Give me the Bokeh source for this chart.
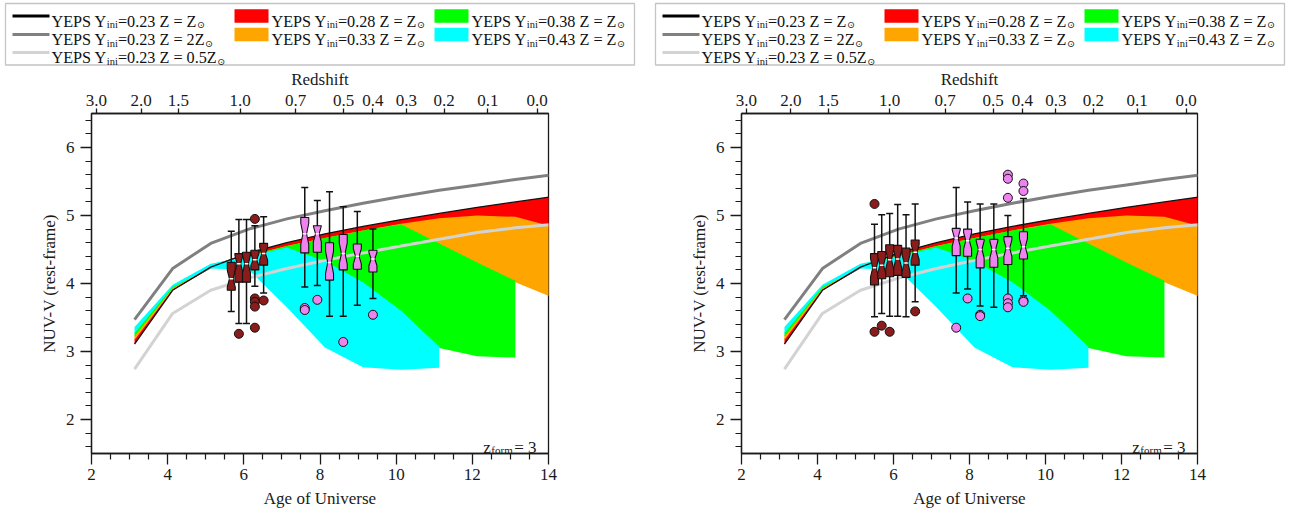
from bokeh.plotting import figure
from bokeh.models import Range1d, LinearAxis, FixedTicker, CustomJSTickFormatter
from bokeh.layouts import row, column
from bokeh.embed import file_html
from bokeh.resources import INLINE
from bokeh.core.properties import value

FONT = "Liberation Serif"

# ---------------- axes / ticks ----------------
age_ticks = [2, 4, 6, 8, 10, 12, 14]
age_minor = [2.5, 3, 3.5, 4.5, 5, 5.5, 6.5, 7, 7.5, 8.5, 9, 9.5, 10.5, 11, 11.5, 12.5, 13, 13.5]
color_ticks = [2, 3, 4, 5, 6]
color_minor = [1.6, 1.8, 2.2, 2.4, 2.6, 2.8, 3.2, 3.4, 3.6, 3.8, 4.2, 4.4, 4.6, 4.8,
               5.2, 5.4, 5.6, 5.8, 6.2, 6.4]
redshift_labels = ["3.0", "2.0", "1.5", "1.0", "0.7", "0.5", "0.4", "0.3", "0.2", "0.1", "0.0"]
redshift_ages = [2.13, 3.30, 4.28, 5.90, 7.36, 8.62, 9.39, 10.27, 11.26, 12.41, 13.70]

# ---------------- YEPS model tracks (age of universe, NUV-V) ----------------
model_age = [3.13, 4.13, 5.13, 6.13, 7.13, 8.13, 9.13, 10.13, 11.13, 12.13, 13.13, 14.13]
yeps_023_z1 = [3.11, 3.90, 4.24, 4.45, 4.60, 4.73, 4.84, 4.94, 5.03, 5.12, 5.20, 5.28]
yeps_023_z2 = [3.47, 4.22, 4.59, 4.80, 4.95, 5.07, 5.18, 5.28, 5.37, 5.45, 5.53, 5.60]
yeps_023_z05 = [2.74, 3.56, 3.90, 4.08, 4.22, 4.34, 4.45, 4.55, 4.65, 4.75, 4.82, 4.87]

band_028_age = [3.13, 4.13, 5.13, 6.13, 7.13, 8.13, 9.13, 10.13, 11.13, 12.13, 13.13, 14.13]
band_028_hi = [3.19, 3.92, 4.26, 4.45, 4.60, 4.73, 4.84, 4.94, 5.03, 5.12, 5.20, 5.28]
band_028_lo = [3.11, 3.90, 4.22, 4.38, 4.50, 4.60, 4.70, 4.80, 4.88, 4.92, 4.90, 4.78]

band_033_age = [3.13, 4.13, 5.13, 6.13, 7.13, 8.13, 9.13, 10.13, 11.13, 12.13, 13.13, 14.13]
band_033_hi = [3.235, 3.94, 4.27, 4.41, 4.55, 4.67, 4.78, 4.88, 4.96, 5.00, 4.98, 4.83]
band_033_lo = [3.17, 3.91, 4.24, 4.35, 4.45, 4.50, 4.50, 4.50, 4.35, 4.15, 4.02, 3.79]

band_038_age = [3.13, 4.13, 5.13, 6.13, 7.13, 8.13, 9.13, 10.13, 11.13, 12.13, 13.13]
band_038_hi = [3.28, 3.96, 4.28, 4.41, 4.55, 4.67, 4.78, 4.87, 4.59, 4.31, 4.04]
band_038_lo = [3.22, 3.93, 4.25, 4.30, 4.00, 3.70, 3.40, 3.15, 3.05, 2.93, 2.91]

band_043_age = [3.13, 4.13, 5.13, 6.13, 7.13, 8.13, 9.13, 10.13, 11.13]
band_043_hi = [3.36, 3.98, 4.29, 4.40, 4.53, 4.33, 4.02, 3.60, 3.07]
band_043_lo = [3.27, 3.95, 4.22, 4.20, 3.65, 3.06, 2.77, 2.73, 2.76]

# ---------------- observed box plots ----------------
# left panel, dark red group
L1_age = [5.67, 5.87, 6.07, 6.29, 6.52]
L1_wlo = [3.59, 3.41, 3.41, 3.96, 3.86]
L1_q1 = [3.90, 4.02, 4.02, 4.20, 4.27]
L1_med = [4.07, 4.29, 4.29, 4.35, 4.44]
L1_q3 = [4.31, 4.44, 4.46, 4.49, 4.59]
L1_whi = [4.77, 4.94, 4.94, 4.85, 4.98]
L1_out_age = [5.87, 6.29, 6.29, 6.29, 6.29, 6.29, 6.52]
L1_out_val = [3.26, 4.95, 3.78, 3.73, 3.66, 3.35, 3.75]
# left panel, violet group
L2_age = [7.60, 7.93, 8.25, 8.61, 8.98, 9.39]
L2_wlo = [3.95, 3.97, 3.52, 3.52, 3.68, 3.78]
L2_q1 = [4.45, 4.46, 4.05, 4.20, 4.21, 4.17]
L2_med = [4.73, 4.73, 4.31, 4.44, 4.40, 4.36]
L2_q3 = [4.97, 4.85, 4.60, 4.72, 4.58, 4.49]
L2_whi = [5.41, 5.22, 5.35, 5.13, 5.06, 4.80]
L2_out_age = [7.60, 7.60, 7.93, 8.61, 9.39]
L2_out_val = [3.64, 3.61, 3.76, 3.14, 3.54]
# right panel, dark red group
R1_age = [5.50, 5.69, 5.90, 6.11, 6.33, 6.57]
R1_wlo = [3.51, 3.56, 3.52, 3.52, 3.51, 3.73]
R1_q1 = [3.98, 4.07, 4.10, 4.12, 4.09, 4.27]
R1_med = [4.23, 4.27, 4.35, 4.36, 4.30, 4.46]
R1_q3 = [4.44, 4.47, 4.57, 4.56, 4.52, 4.64]
R1_whi = [4.87, 5.01, 5.03, 5.16, 5.01, 5.17]
R1_out_age = [5.50, 5.50, 5.69, 5.90, 6.57]
R1_out_val = [5.17, 3.29, 3.38, 3.29, 3.59]
# right panel, violet group
R2_age = [7.65, 7.95, 8.28, 8.64, 9.01, 9.42]
R2_wlo = [3.86, 3.92, 3.67, 3.65, 3.81, 3.82]
R2_q1 = [4.41, 4.40, 4.23, 4.24, 4.28, 4.36]
R2_med = [4.67, 4.63, 4.50, 4.50, 4.52, 4.54]
R2_q3 = [4.81, 4.80, 4.65, 4.65, 4.69, 4.76]
R2_whi = [5.41, 5.20, 5.17, 5.17, 5.00, 5.25]
R2_out_age = [7.65, 7.95, 8.28, 8.28, 9.01, 9.01, 9.01, 9.01, 9.01, 9.01, 9.42, 9.42, 9.42, 9.42]
R2_out_val = [3.35, 3.78, 3.54, 3.52, 5.60, 5.54, 5.26, 3.78, 3.71, 3.65, 5.47, 5.36, 3.75, 3.73]

# ---------------- legend texts ----------------
legend_yini = ["0.23", "0.23", "0.23", "0.28", "0.33", "0.38", "0.43"]
legend_z = ["Z", "2Z", "0.5Z", "Z", "Z", "Z", "Z"]
legend_color = ["black", "#808080", "#D3D3D3", "#FF0000", "#FFA500", "#00FF00", "#00FFFF"]
legend_kind = ["line", "line", "line", "patch", "patch", "patch", "patch"]
legend_col = [0, 0, 0, 1, 1, 2, 2]
legend_row = [0, 1, 2, 0, 1, 0, 1]

DARKRED = "#8B1C1C"
VIOLET = "#EE82EE"

# Times / Liberation Serif advance widths (per 1000 em)
TNR = {'Y': 722, 'E': 611, 'P': 556, 'S': 556, ' ': 250, 'i': 278, 'n': 500, '=': 564,
       '0': 500, '.': 250, '2': 500, '3': 500, '4': 500, '5': 500, '8': 500, 'Z': 611,
       'f': 333, 'o': 500, 'r': 333, 'm': 778, 'z': 444}


def tw(s, size):
    return sum(TNR.get(ch, 500) for ch in s) / 1000.0 * size


X0, X1, Y0, Y1 = 2, 14, 1.5, 6.5
LEG_H = 66


def make_legend(width):
    lg = figure(width=width, height=LEG_H, x_range=Range1d(0, width), y_range=Range1d(LEG_H, 0),
                output_backend="svg", toolbar_location=None, min_border=0,
                x_axis_location=None, y_axis_location=None)
    lg.grid.visible = False
    lg.outline_line_color = None
    lg.quad(left=[5], right=[634], top=[3], bottom=[64.5], fill_color="white",
            line_color="#c4c4c4", line_width=1.3)
    F, FS = 16.2, 10.5
    sym_x = [12, 234, 434]
    sym_w = [37, 34, 34]
    txt_x = [51, 271, 471]
    base = [21.0, 39.5, 57.5]
    for k in range(len(legend_yini)):
        c, r = legend_col[k], legend_row[k]
        b = base[r]
        if legend_kind[k] == "line":
            lg.line([sym_x[c], sym_x[c] + sym_w[c]], [b - 5.5, b - 5.5], line_color=legend_color[k],
                    line_width=3)
        else:
            lg.quad(left=[sym_x[c]], right=[sym_x[c] + sym_w[c]], top=[b - 12.3], bottom=[b + 1.3],
                    fill_color=legend_color[k], line_color=None)
        x = txt_x[c]
        s1 = "YEPS Y"
        s2 = "ini"
        s3 = "=" + legend_yini[k] + " Z = " + legend_z[k]
        xs = [x, x + tw(s1, F), x + tw(s1, F) + tw(s2, FS)]
        xs.append(xs[2] + tw(s3, F) + 0.5)
        lg.text(x=[xs[0]], y=[b], text=[s1], text_font=value(FONT), text_font_size=f"{F}px",
                text_baseline="alphabetic", text_color="#111111")
        lg.text(x=[xs[1]], y=[b + 3.3], text=[s2], text_font=value(FONT), text_font_size=f"{FS}px",
                text_baseline="alphabetic", text_color="#111111")
        lg.text(x=[xs[2]], y=[b], text=[s3], text_font=value(FONT), text_font_size=f"{F}px",
                text_baseline="alphabetic", text_color="#111111")
        lg.text(x=[xs[3]], y=[b + 3.3], text=["\u2299"], text_font=value("DejaVu Sans"),
                text_font_size="9.5px", text_baseline="alphabetic", text_color="#111111")
    return lg


def style_axis(ax, tick_out, minor_out, label_standoff, axis_standoff):
    ax.axis_line_color = "#1a1a1a"
    ax.axis_line_width = 1.3
    ax.major_tick_line_color = "#1a1a1a"
    ax.major_tick_line_width = 1.3
    ax.minor_tick_line_color = "#1a1a1a"
    ax.minor_tick_line_width = 1.2
    ax.major_tick_in = 0
    ax.major_tick_out = tick_out
    ax.minor_tick_in = 0
    ax.minor_tick_out = minor_out
    ax.major_label_text_font = FONT
    ax.major_label_text_font_size = "17px"
    ax.major_label_text_color = "#1a1a1a"
    ax.major_label_standoff = label_standoff
    ax.axis_label_text_font = FONT
    ax.axis_label_text_font_size = "17px"
    ax.axis_label_text_font_style = "normal"
    ax.axis_label_text_color = "#1a1a1a"
    ax.axis_label_standoff = axis_standoff


def draw_boxes(p, frame_w, ages, wlo, q1, med, q3, whi, out_age, out_val, fill):
    pxx = frame_w / (X1 - X0)
    hw = 4.0 / pxx
    cap = 3.5 / pxx
    xs, ys = [], []
    for c, a, m, b in zip(ages, q1, med, q3):
        n = 0.3 * (b - a)
        xs.append([c - hw, c + hw, c + hw, c + hw * 0.45, c + hw, c + hw, c - hw, c - hw, c - hw * 0.45, c - hw])
        ys.append([a, a, m - n, m, m + n, b, b, m + n, m, m - n])
    p.segment(x0=ages, y0=wlo, x1=ages, y1=whi, line_color="#111111", line_width=1.5)
    p.segment(x0=[c - cap for c in ages], y0=wlo, x1=[c + cap for c in ages], y1=wlo,
              line_color="#111111", line_width=1.5)
    p.segment(x0=[c - cap for c in ages], y0=whi, x1=[c + cap for c in ages], y1=whi,
              line_color="#111111", line_width=1.5)
    p.patches(xs, ys, fill_color=fill, line_color="#111111", line_width=1.1)
    p.segment(x0=[c - hw * 0.45 for c in ages], y0=med, x1=[c + hw * 0.45 for c in ages], y1=med,
              line_color="white", line_width=1.5)
    p.scatter(out_age, out_val, marker="circle", size=9, fill_color=fill, line_color="#111111",
              line_width=1)


def make_panel(width, right_border, boxes):
    frame_w = width - 91 - right_border
    p = figure(width=width, height=517 - LEG_H, x_range=Range1d(X0, X1), y_range=Range1d(Y0, Y1),
               output_backend="svg", toolbar_location=None,
               min_border_left=91, min_border_right=right_border, min_border_top=47, min_border_bottom=64,
               x_axis_label="Age of Universe", y_axis_label="NUV-V (rest-frame)")
    p.grid.visible = False
    p.outline_line_color = "#1a1a1a"
    p.outline_line_width = 1.3
    p.xaxis.ticker = FixedTicker(ticks=age_ticks, minor_ticks=age_minor)
    p.yaxis.ticker = FixedTicker(ticks=color_ticks, minor_ticks=color_minor)
    style_axis(p.xaxis[0], 11, 6, 4, 6)
    style_axis(p.yaxis[0], 11, 6, 6, 4)
    p.yaxis[0].major_label_orientation = "horizontal"

    top = LinearAxis(ticker=FixedTicker(ticks=redshift_ages, minor_ticks=[]),
                     formatter=CustomJSTickFormatter(args=dict(labels=redshift_labels),
                                                     code="return labels[index]"),
                     axis_label="Redshift")
    style_axis(top, 5, 0, 3, 3)
    p.add_layout(top, "above")

    # model bands
    for ages, hi, lo, col in [(band_028_age, band_028_hi, band_028_lo, "#FF0000"),
                              (band_033_age, band_033_hi, band_033_lo, "#FFA500"),
                              (band_038_age, band_038_hi, band_038_lo, "#00FF00"),
                              (band_043_age, band_043_hi, band_043_lo, "#00FFFF")]:
        p.patch(list(ages) + list(ages)[::-1], list(hi) + list(lo)[::-1], fill_color=col,
                line_color=None)
    p.line(model_age, yeps_023_z2, line_color="#808080", line_width=3)
    p.line(model_age, yeps_023_z05, line_color="#D3D3D3", line_width=3)
    p.line(model_age, yeps_023_z1, line_color="#111111", line_width=1.3)

    for b in boxes:
        draw_boxes(p, frame_w, *b)

    # z_form = 3 label
    pxx = frame_w / (X1 - X0)
    pxy = 340.0 / (Y1 - Y0)
    xr, yb = 13.686, 1.590
    p.text(x=[xr], y=[yb], text=["= 3"], text_font=value(FONT), text_font_size="17px",
           text_align="right", text_baseline="alphabetic", text_color="#1a1a1a")
    xf = xr - (tw("= 3", 17) + 1.5) / pxx
    p.text(x=[xf], y=[yb - 3 / pxy], text=["form"], text_font=value(FONT), text_font_size="11px",
           text_align="right", text_baseline="alphabetic", text_color="#1a1a1a")
    xz = xf - (tw("form", 11) + 0.5) / pxx
    p.text(x=[xz], y=[yb], text=["z"], text_font=value(FONT), text_font_size="17px",
           text_align="right", text_baseline="alphabetic", text_color="#1a1a1a")
    return p


left_boxes = [(L1_age, L1_wlo, L1_q1, L1_med, L1_q3, L1_whi, L1_out_age, L1_out_val, DARKRED),
              (L2_age, L2_wlo, L2_q1, L2_med, L2_q3, L2_whi, L2_out_age, L2_out_val, VIOLET)]
right_boxes = [(R1_age, R1_wlo, R1_q1, R1_med, R1_q3, R1_whi, R1_out_age, R1_out_val, DARKRED),
               (R2_age, R2_wlo, R2_q1, R2_med, R2_q3, R2_whi, R2_out_age, R2_out_val, VIOLET)]

p1 = make_panel(650, 102, left_boxes)
p2 = make_panel(641, 94, right_boxes)
leg1 = make_legend(650)
leg2 = make_legend(641)

layout = column(row(leg1, leg2), row(p1, p2))
open("out.html", "w").write(file_html(layout, INLINE))
